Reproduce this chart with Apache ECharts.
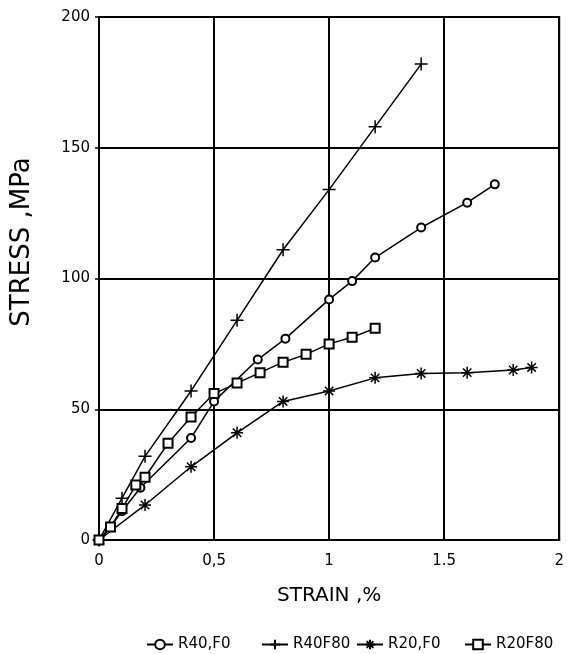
<!DOCTYPE html>
<html>
<head>
<meta charset="utf-8">
<script src="https://cdn.jsdelivr.net/npm/echarts@6/dist/echarts.min.js"></script>
<style>
  html, body { margin: 0; padding: 0; background: #fff; }
  #chart { width: 567px; height: 654px; }
</style>
</head>
<body>
<div id="chart"></div>
<script>
// strain (%) / stress (MPa) pairs
const seriesNames = ['R40,F0', 'R40F80', 'R20,F0', 'R20F80'];

const r40f0 = [
    [0, 0], [0.05, 5], [0.1, 11], [0.18, 20], [0.4, 39], [0.5, 53], [0.69, 69],
    [0.81, 77], [1.0, 92], [1.1, 99], [1.2, 108], [1.4, 119.5], [1.6, 129], [1.72, 136]
];
const r40f80 = [
    [0, 0], [0.1, 16], [0.2, 32], [0.4, 57], [0.6, 84], [0.8, 111], [1.0, 134], [1.2, 158], [1.4, 182]
];
const r20f0 = [
    [0, 0], [0.2, 13.4], [0.4, 28], [0.6, 41], [0.8, 53], [1.0, 57], [1.2, 62],
    [1.4, 63.7], [1.6, 64], [1.8, 65], [1.88, 66]
];
const r20f80 = [
    [0, 0], [0.05, 5], [0.1, 12], [0.16, 21], [0.2, 24], [0.3, 37], [0.4, 47], [0.5, 56],
    [0.6, 60], [0.7, 64], [0.8, 68], [0.9, 71], [1.0, 75], [1.1, 77.5], [1.2, 81]
];

const xTickLabels = { 0: '0', 0.5: '0,5', 1: '1', 1.5: '1.5', 2: '2' };
const yTickLabels = { 0: '0', 50: '50', 100: '100', 150: '150', 200: '200' };

const PLUS = 'path://M0,5L10,5M5,0L5,10';
const STAR = 'path://M0,5L10,5M5,0L5,10M1.5,1.5L8.5,8.5M1.5,8.5L8.5,1.5';

const font = 'DejaVu Sans';
const chart = echarts.init(document.getElementById('chart'), null, { renderer: 'canvas' });

function makeSeries(name, data, symbol, size) {
    const pathSym = symbol.indexOf('path://') === 0;
    return {
        name,
        type: 'line',
        data,
        symbol,
        symbolSize: size,
        showAllSymbol: true,
        lineStyle: { color: '#000', width: 1.5 },
        itemStyle: pathSym
            ? { color: 'rgba(0,0,0,0)', borderColor: '#000', borderWidth: 1.5 }
            : { color: '#000', borderColor: '#000', borderWidth: 1.5 },
        emphasis: { disabled: true },
        z: 3
    };
}

const legendLefts = [141, 256, 351, 459];

chart.setOption({
    animation: false,
    backgroundColor: '#fff',
    grid: {
        left: 99, right: 7, top: 17, bottom: 114,
        show: true, borderColor: '#000', borderWidth: 2, backgroundColor: 'transparent'
    },
    graphic: [{
        type: 'text',
        x: 22,
        y: 242,
        rotation: Math.PI / 2,
        style: {
            text: 'STRESS ,MPa',
            fontFamily: font,
            fontSize: 26,
            fill: '#000',
            align: 'center',
            verticalAlign: 'middle'
        }
    }],
    legend: seriesNames.map((n, i) => ({
        data: [n],
        left: legendLefts[i],
        top: 632,
        itemWidth: 26,
        itemHeight: 12,
        itemGap: 4,
        textStyle: { fontFamily: font, fontSize: 15, color: '#000' },
        selectedMode: false
    })),
    xAxis: {
        type: 'value',
        min: 0, max: 2, interval: 0.5,
        name: 'STRAIN ,%',
        nameLocation: 'middle',
        nameGap: 46,
        nameTextStyle: { fontFamily: font, fontSize: 20, color: '#000' },
        axisLine: { show: true, lineStyle: { color: '#000', width: 2 } },
        axisTick: { show: false },
        axisLabel: {
            margin: 14,
            fontFamily: font, fontSize: 15, color: '#000',
            formatter: v => xTickLabels[v] ?? ''
        },
        splitLine: { show: true, lineStyle: { color: '#000', width: 2 } }
    },
    yAxis: {
        type: 'value',
        min: 0, max: 200, interval: 50,
        axisLine: { show: true, lineStyle: { color: '#000', width: 2 } },
        axisTick: { show: true, length: 4, lineStyle: { color: '#000', width: 1.5 } },
        axisLabel: {
            margin: 9,
            fontFamily: font, fontSize: 15, color: '#000',
            formatter: v => yTickLabels[v] ?? ''
        },
        splitLine: { show: true, lineStyle: { color: '#000', width: 2 } }
    },
    series: [
        makeSeries(seriesNames[0], r40f0, 'emptyCircle', 8),
        makeSeries(seriesNames[1], r40f80, PLUS, 13),
        makeSeries(seriesNames[2], r20f0, STAR, 12),
        makeSeries(seriesNames[3], r20f80, 'emptyRect', 9)
    ]
});
</script>
</body>
</html>
